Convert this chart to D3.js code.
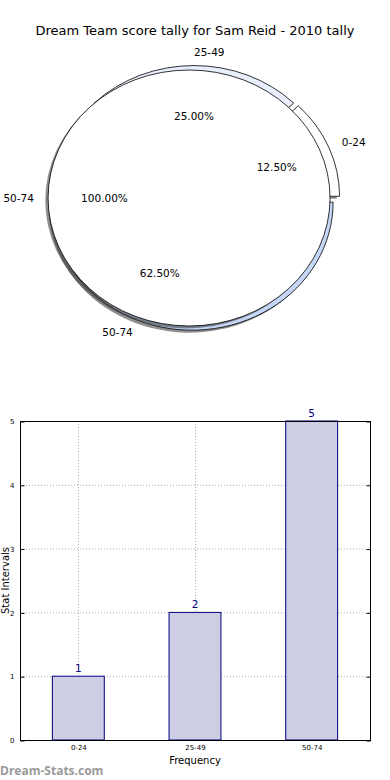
<!DOCTYPE html>
<html>
<head>
<meta charset="utf-8">
<script src="https://cdn.jsdelivr.net/npm/d3@7"></script>
<style>
  body { margin: 0; background: #fff; }
  text { font-family: "DejaVu Sans", sans-serif; }
</style>
</head>
<body>
<div id="chart"></div>
<script>
// data
const categories = ["0-24", "25-49", "50-74"];
const counts = [1, 2, 5];
const sliceColors = ["#ffffff", "#e8eefc", "#c6d6f6"];
// second pie drawn over the first one: a single full slice
const overlayLabels = ["50-74"];
const overlayValues = [5];
const yTicks = [0, 1, 2, 3, 4, 5];

const W = 390, H = 780;
const svg = d3.select("#chart").append("svg")
    .attr("width", W)
    .attr("height", H);

svg.append("text")
    .attr("x", 195)
    .attr("y", 35)
    .attr("text-anchor", "middle")
    .style("font-size", "13px")
    .text("Dream Team score tally for Sam Reid - 2010 tally");

// ---------- pie (elliptical, like matplotlib without equal aspect) ----------
const cx = 194, cy = 198, rx = 141, ry = 128;
const explode = 0.035;

const defs = svg.append("defs");
defs.append("filter").attr("id", "blur")
    .attr("x", "-10%").attr("y", "-10%").attr("width", "120%").attr("height", "120%")
    .append("feGaussianBlur").attr("stdDeviation", 0.6);

// matplotlib starts at 3 o'clock and goes counter-clockwise
const pie = d3.pie().sort(null)
    .startAngle(Math.PI / 2)
    .endAngle(Math.PI / 2 - 2 * Math.PI);
const arc = d3.arc().innerRadius(0).outerRadius(1);

const pctFormat = d3.format(".2f");
const wedgeLayer = svg.append("g");
const textLayer = svg.append("g");

function drawPie(labels, values, colors) {
    const total = d3.sum(values);
    const arcs = pie(values);
    arcs.forEach((a, i) => {
        const mid = (a.startAngle + a.endAngle) / 2;
        const ux = Math.sin(mid), uy = -Math.cos(mid);
        const ox = cx + explode * rx * ux, oy = cy + explode * ry * uy;

        // shadow
        wedgeLayer.append("g")
            .attr("filter", "url(#blur)")
            .append("path")
            .attr("d", arc(a))
            .attr("transform", `translate(${ox - 0.02 * rx},${oy + 0.02 * ry}) scale(${rx},${ry})`)
            .attr("fill", "#333")
            .attr("opacity", 0.55);

        wedgeLayer.append("path")
            .attr("d", arc(a))
            .attr("transform", `translate(${ox},${oy}) scale(${rx},${ry})`)
            .attr("fill", colors[i])
            .attr("stroke", "#000")
            .attr("stroke-width", 0.8)
            .attr("vector-effect", "non-scaling-stroke");

        const lx = ox + 1.1 * rx * ux, ly = oy + 1.1 * ry * uy;
        textLayer.append("text")
            .attr("x", lx)
            .attr("y", ly)
            .attr("dy", "0.35em")
            .attr("text-anchor", ux >= -1e-9 ? "start" : "end")
            .style("font-size", "10.5px")
            .text(labels[i]);

        textLayer.append("text")
            .attr("x", ox + 0.6 * rx * ux)
            .attr("y", oy + 0.6 * ry * uy)
            .attr("dy", "0.35em")
            .attr("text-anchor", "middle")
            .style("font-size", "10.5px")
            .text(pctFormat(values[i] / total * 100) + "%");
    });
}

drawPie(categories, counts, sliceColors);
drawPie(overlayLabels, overlayValues, ["#ffffff"]);

// ---------- bar chart ----------
const plotLeft = 20, plotRight = 370;
const plotTop = 421, plotBottom = 740;

const xScale = d3.scalePoint()
    .domain(categories)
    .range([plotLeft, plotRight])
    .padding(0.5);
const barW = xScale.step() * 0.445;

const yScale = d3.scaleLinear()
    .domain([0, 5])
    .range([plotBottom, plotTop]);

const grid = svg.append("g")
    .attr("stroke", "#aaa")
    .attr("stroke-width", 1)
    .attr("stroke-dasharray", "1,2");

grid.selectAll(".gy")
    .data(yTicks)
    .enter().append("line")
    .attr("x1", plotLeft).attr("x2", plotRight)
    .attr("y1", d => yScale(d) + 0.5).attr("y2", d => yScale(d) + 0.5);

const bars = svg.append("g");
bars.selectAll("rect")
    .data(counts)
    .enter().append("rect")
    .attr("x", (d, i) => xScale(categories[i]) - barW / 2)
    .attr("y", d => yScale(d))
    .attr("width", barW)
    .attr("height", d => yScale(0) - yScale(d))
    .attr("fill", "#cdcde4")
    .attr("stroke", "#000080")
    .attr("stroke-width", 1);

grid.selectAll(".gx")
    .data(categories)
    .enter().append("line")
    .attr("x1", d => Math.round(xScale(d)) + 0.5).attr("x2", d => Math.round(xScale(d)) + 0.5)
    .attr("y1", plotTop).attr("y2", plotBottom);

bars.selectAll(".val")
    .data(counts)
    .enter().append("text")
    .attr("x", (d, i) => xScale(categories[i]))
    .attr("y", d => yScale(d) - 4)
    .attr("text-anchor", "middle")
    .attr("fill", "#000080")
    .style("font-size", "10.5px")
    .text(d => d);

// axes frame
svg.append("rect")
    .attr("x", plotLeft + 0.5).attr("y", plotTop + 0.5)
    .attr("width", plotRight - plotLeft).attr("height", plotBottom - plotTop)
    .attr("fill", "none")
    .attr("stroke", "#000")
    .attr("stroke-width", 1);

const yAxis = d3.axisLeft(yScale)
    .tickValues(yTicks)
    .tickFormat(d3.format("d"))
    .tickSize(-4)
    .tickPadding(6);
const yg = svg.append("g")
    .attr("transform", `translate(${plotLeft + 0.5},0.5)`)
    .call(yAxis);
yg.select(".domain").remove();
yg.selectAll("text").style("font-size", "7px").style("font-family", "DejaVu Sans");

const yAxisR = d3.axisRight(yScale).tickValues(yTicks).tickSize(-4).tickFormat("");
const yr = svg.append("g").attr("transform", `translate(${plotRight + 0.5},0.5)`).call(yAxisR);
yr.select(".domain").remove();

const xAxis = d3.axisBottom(xScale)
    .tickSize(0)
    .tickPadding(5);
const xg = svg.append("g")
    .attr("transform", `translate(0,${plotBottom})`)
    .call(xAxis);
xg.select(".domain").remove();
xg.selectAll("text").style("font-size", "7px").style("font-family", "DejaVu Sans");

svg.append("text")
    .attr("x", (plotLeft + plotRight) / 2)
    .attr("y", 764)
    .attr("text-anchor", "middle")
    .style("font-size", "10px")
    .text("Frequency");

svg.append("text")
    .attr("transform", `translate(9,${(plotTop + plotBottom) / 2}) rotate(-90)`)
    .attr("text-anchor", "middle")
    .style("font-size", "10px")
    .text("Stat Intervals");

svg.append("text")
    .attr("x", 0)
    .attr("y", 775)
    .attr("fill", "#9a9a9a")
    .style("font-family", "Open Sans")
    .style("font-weight", "bold")
    .style("font-size", "12px")
    .text("Dream-Stats.com");
</script>
</body>
</html>
